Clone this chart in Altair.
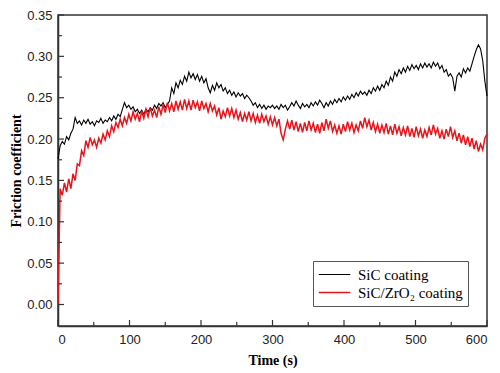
import altair as alt
import pandas as pd

# time axis (s), sampled every 3 s
time_s = list(range(0, 601, 3))

sic = [
    0.176, 0.192, 0.197, 0.194, 0.203, 0.199, 0.207, 0.212, 0.226, 0.219,
    0.222, 0.217, 0.223, 0.219, 0.224, 0.218, 0.221, 0.216, 0.222, 0.220,
    0.225, 0.219, 0.223, 0.221, 0.226, 0.222, 0.228, 0.224, 0.230, 0.227,
    0.236, 0.244, 0.238, 0.241, 0.236, 0.239, 0.233, 0.236, 0.231, 0.235,
    0.230, 0.236, 0.233, 0.238, 0.235, 0.241, 0.237, 0.243, 0.240, 0.244,
    0.238, 0.242, 0.246, 0.262, 0.255, 0.268, 0.262, 0.271, 0.266, 0.276,
    0.270, 0.281, 0.274, 0.279, 0.272, 0.278, 0.270, 0.276, 0.268, 0.273,
    0.262, 0.256, 0.265, 0.259, 0.268, 0.262, 0.266, 0.258, 0.262, 0.255,
    0.259, 0.253, 0.257, 0.251, 0.256, 0.252, 0.255, 0.249, 0.253, 0.250,
    0.246, 0.241, 0.244, 0.238, 0.242, 0.237, 0.241, 0.236, 0.240, 0.238,
    0.241, 0.237, 0.240, 0.236, 0.242, 0.238, 0.241, 0.235, 0.239, 0.244,
    0.240, 0.246, 0.241, 0.237, 0.243, 0.239, 0.242, 0.238, 0.244, 0.240,
    0.245, 0.241, 0.247, 0.243, 0.238, 0.244, 0.240, 0.246, 0.242, 0.248,
    0.244, 0.249, 0.245, 0.251, 0.247, 0.252, 0.248, 0.254, 0.250, 0.256,
    0.252, 0.258, 0.254, 0.257, 0.253, 0.259, 0.255, 0.262, 0.258, 0.264,
    0.259, 0.266, 0.262, 0.270, 0.265, 0.275, 0.270, 0.281, 0.276, 0.284,
    0.279, 0.286, 0.281, 0.288, 0.283, 0.290, 0.285, 0.289, 0.284, 0.291,
    0.286, 0.292, 0.287, 0.291, 0.286, 0.293, 0.288, 0.292, 0.285, 0.289,
    0.281, 0.284, 0.276, 0.279, 0.274, 0.258, 0.276, 0.280, 0.275, 0.285,
    0.280, 0.286, 0.282, 0.291, 0.300, 0.308, 0.314, 0.309, 0.295, 0.270,
    0.252,
]

sic_zro2 = [
    0.000, 0.140, 0.132, 0.147, 0.136, 0.152, 0.140, 0.158, 0.150, 0.170,
    0.168, 0.186, 0.180, 0.198, 0.190, 0.202, 0.193, 0.199, 0.190, 0.201,
    0.195, 0.206, 0.199, 0.210, 0.203, 0.216, 0.209, 0.220, 0.214, 0.224,
    0.216, 0.226, 0.219, 0.230, 0.222, 0.233, 0.224, 0.231, 0.221, 0.234,
    0.225, 0.236, 0.227, 0.238, 0.228, 0.235, 0.226, 0.239, 0.230, 0.241,
    0.232, 0.244, 0.234, 0.243, 0.233, 0.246, 0.236, 0.245, 0.235, 0.248,
    0.237, 0.246, 0.235, 0.247, 0.238, 0.245, 0.234, 0.246, 0.237, 0.243,
    0.233, 0.243, 0.234, 0.240, 0.229, 0.238, 0.224, 0.234, 0.227, 0.238,
    0.228, 0.237, 0.226, 0.235, 0.224, 0.232, 0.221, 0.231, 0.223, 0.233,
    0.222, 0.231, 0.220, 0.229, 0.219, 0.230, 0.221, 0.228, 0.218, 0.227,
    0.217, 0.226, 0.216, 0.224, 0.207, 0.199, 0.212, 0.222, 0.212, 0.223,
    0.211, 0.221, 0.209, 0.219, 0.208, 0.220, 0.210, 0.222, 0.211, 0.219,
    0.208, 0.218, 0.207, 0.220, 0.210, 0.224, 0.213, 0.222, 0.209, 0.217,
    0.207, 0.216, 0.206, 0.218, 0.209, 0.221, 0.211, 0.219, 0.208, 0.217,
    0.210, 0.222, 0.213, 0.226, 0.215, 0.223, 0.211, 0.220, 0.209, 0.218,
    0.207, 0.217, 0.208, 0.219, 0.206, 0.216, 0.205, 0.218, 0.207, 0.215,
    0.204, 0.214, 0.205, 0.216, 0.203, 0.213, 0.202, 0.215, 0.204, 0.212,
    0.201, 0.211, 0.203, 0.214, 0.205, 0.217, 0.206, 0.213, 0.201, 0.210,
    0.200, 0.212, 0.203, 0.215, 0.202, 0.210, 0.198, 0.207, 0.195, 0.205,
    0.193, 0.203, 0.191, 0.201, 0.188, 0.198, 0.185, 0.194, 0.187, 0.201,
    0.206,
]

series_names = ["SiC coating", "SiC/ZrO\u2082 coating"]
series_colors = ["#000000", "#e8141c"]

y_major = [0.0, 0.05, 0.10, 0.15, 0.20, 0.25, 0.30, 0.35]
y_minor = [0.025, 0.075, 0.125, 0.175, 0.225, 0.275, 0.325]
x_major = [0, 100, 200, 300, 400, 500, 600]
x_minor = [50, 150, 250, 350, 450, 550]

W, H = 429, 311

df = pd.DataFrame({
    "t": time_s * 2,
    "v": sic + sic_zro2,
    "series": [series_names[0]] * len(time_s) + [series_names[1]] * len(time_s),
})

xscale = alt.Scale(domain=[0, 600], nice=False, zero=False)
yscale = alt.Scale(domain=[-0.026, 0.35], nice=False, zero=False)

axis_common = dict(
    ticks=False, tickSize=0, grid=False,
    domainColor="#333333", domainWidth=1.5,
    labelFont="Liberation Sans", labelFontSize=13, labelColor="#222222",
    titleFont="Liberation Serif", titleFontSize=14, titleFontWeight="bold",
    titleColor="#000000",
)
x_axis = alt.Axis(title="Time (s)", values=x_major, format="d",
                  labelPadding=7, titlePadding=7, **axis_common)
y_axis = alt.Axis(title="Friction coefficient", values=y_major, format=".2f",
                  labelPadding=6, titlePadding=3, **axis_common)

lines = alt.Chart(df).mark_line().encode(
    x=alt.X("t:Q", scale=xscale, axis=x_axis, title="Time (s)"),
    y=alt.Y("v:Q", scale=yscale, axis=y_axis, title="Friction coefficient"),
    color=alt.Color("series:N", sort=series_names,
                    scale=alt.Scale(domain=series_names, range=series_colors),
                    legend=alt.Legend(
                        title=None, orient="none", legendX=255, legendY=246,
                        symbolType="M-2.1,0H2.1", symbolSize=225,
                        symbolStrokeWidth=1, symbolOffset=8,
                        labelFont="Liberation Serif", labelFontSize=15,
                        labelColor="#000000", labelOffset=15,
                        padding=5, rowPadding=1,
                        fillColor="#ffffff", strokeColor="#555555",
                    )),
    strokeWidth=alt.StrokeWidth("series:N",
                                scale=alt.Scale(domain=series_names, range=[1.1, 1.5]),
                                legend=None),
)


def ytick_layer(vals, length):
    return alt.Chart(pd.DataFrame({"v": vals})).mark_rule(
        color="#333333", strokeWidth=1.2).encode(
        y=alt.Y("v:Q", scale=yscale, axis=y_axis, title="Friction coefficient"),
        x=alt.value(0), x2=alt.value(length))


def xtick_layer(vals, length):
    return alt.Chart(pd.DataFrame({"t": vals})).mark_rule(
        color="#333333", strokeWidth=1.2).encode(
        x=alt.X("t:Q", scale=xscale, axis=x_axis, title="Time (s)"),
        y=alt.value(H), y2=alt.value(H - length))


chart = alt.layer(
    lines,
    ytick_layer(y_major, 6), ytick_layer(y_minor, 4),
    xtick_layer(x_major, 6), xtick_layer(x_minor, 4),
).properties(
    width=W, height=H,
    autosize=alt.AutoSizeParams(type="none"),
    padding={"left": 50, "top": 7, "right": 4, "bottom": 43},
    background="#ffffff",
).configure_view(stroke="#333333", strokeWidth=1.5)

chart.save("out.html", embed_options={"renderer": "svg", "actions": False})
